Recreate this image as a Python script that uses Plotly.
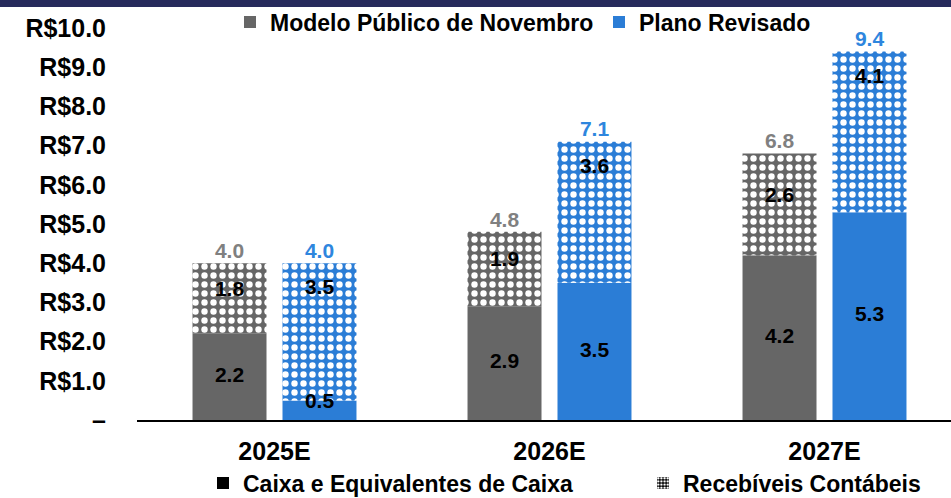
import plotly.graph_objects as go

# --- data ---------------------------------------------------------------
years = ["2025E", "2026E", "2027E"]
modelo_caixa = [2.2, 2.9, 4.2]
modelo_receb = [1.8, 1.9, 2.6]
plano_caixa = [0.5, 3.5, 5.3]
plano_receb = [3.5, 3.6, 4.1]
modelo_total = [4.0, 4.8, 6.8]
plano_total = [4.0, 7.1, 9.4]
y_ticks = [0, 1, 2, 3, 4, 5, 6, 7, 8, 9, 10]
y_tick_text = ["–"] + [f"R${v:.1f}" for v in y_ticks[1:]]

# --- style --------------------------------------------------------------
GRAY = "#666666"
BLUE = "#2B7DD6"
GRAY_LABEL = "#808080"
BLUE_LABEL = "#2E86DE"
NAVY = "#272A5C"
FONT = "Liberation Sans, Arial, sans-serif"

W, H = 951, 498
ML, MR, MT, MB = 137, 0, 28, 78
plot_w = W - ML - MR
plot_h = H - MT - MB

bar_w = 0.269
shift = 0.1636
xs = list(range(len(years)))
x_gray = [x - shift for x in xs]
x_blue = [x + shift for x in xs]


def dots(bg):
    return dict(shape=".", bgcolor=bg, fgcolor="white", size=9,
                solidity=0.4, fillmode="replace")


fig = go.Figure()

# stacked bars: cash at the bottom, receivables on top
fig.add_bar(x=xs, y=modelo_caixa, width=bar_w, offset=-shift - bar_w / 2,
            marker=dict(color=GRAY, line_width=0),
            name="Modelo Público de Novembro", legend="legend", legendwidth=324)
fig.add_bar(x=xs, y=modelo_receb, base=modelo_caixa, width=bar_w,
            offset=-shift - bar_w / 2,
            marker=dict(color=GRAY, line_width=0, pattern=dots(GRAY)),
            showlegend=False)
fig.add_bar(x=xs, y=plano_caixa, width=bar_w, offset=shift - bar_w / 2,
            marker=dict(color=BLUE, line_width=0),
            name="Plano Revisado", legend="legend", legendwidth=170)
fig.add_bar(x=xs, y=plano_receb, base=plano_caixa, width=bar_w,
            offset=shift - bar_w / 2,
            marker=dict(color=BLUE, line_width=0, pattern=dots(BLUE)),
            showlegend=False)

# legend entries for the stack components
fig.add_bar(x=[None], y=[None], name="Caixa e Equivalentes de Caixa",
            marker=dict(color="black", line_width=0), legend="legend2",
            legendwidth=395)
fig.add_bar(x=[None], y=[None], name="Recebíveis Contábeis",
            marker=dict(color="black", line_width=0,
                        pattern=dict(shape=".", bgcolor="black", fgcolor="white",
                                     size=4, solidity=0.5, fillmode="replace")),
            legend="legend2", legendwidth=250)

# segment value labels
seg_font = dict(family=FONT, size=21, color="black", weight="bold")
gray_bottom_y = [v / 2 for v in modelo_caixa]
gray_top_y = [b + v / 2 + 0.2 for b, v in zip(modelo_caixa, modelo_receb)]
blue_bottom_y = [max(v / 2, 0.43) for v in plano_caixa]
blue_top_y = [t - 0.66 for t in plano_total]
fig.add_scatter(x=x_gray + x_gray, y=gray_bottom_y + gray_top_y, mode="text",
                text=[f"{v:.1f}" for v in modelo_caixa + modelo_receb],
                textposition="middle center", textfont=seg_font,
                showlegend=False, hoverinfo="skip")
fig.add_scatter(x=x_blue + x_blue, y=blue_bottom_y + blue_top_y, mode="text",
                text=[f"{v:.1f}" for v in plano_caixa + plano_receb],
                textposition="middle center", textfont=seg_font,
                showlegend=False, hoverinfo="skip")

# totals above each bar
fig.add_scatter(x=x_gray, y=modelo_total, mode="text",
                text=[f"{v:.1f}" for v in modelo_total], textposition="top center",
                textfont=dict(family=FONT, size=21, color=GRAY_LABEL, weight="bold"),
                showlegend=False, hoverinfo="skip")
fig.add_scatter(x=x_blue, y=plano_total, mode="text",
                text=[f"{v:.1f}" for v in plano_total], textposition="top center",
                textfont=dict(family=FONT, size=21, color=BLUE_LABEL, weight="bold"),
                showlegend=False, hoverinfo="skip")

# navy band across the top of the page
band_px = 7
fig.add_shape(type="rect", xref="paper", yref="paper",
              x0=-ML / plot_w, x1=1 + MR / plot_w + 0.01,
              y0=1 + (MT - band_px) / plot_h, y1=1 + MT / plot_h + 0.01,
              fillcolor=NAVY, line_width=0, layer="above")

fig.update_layout(
    width=W, height=H,
    margin=dict(l=ML, r=MR, t=MT, b=MB, pad=0, autoexpand=False),
    barmode="overlay",
    plot_bgcolor="white", paper_bgcolor="white",
    font=dict(family=FONT, color="black"),
    xaxis=dict(range=[-0.5, (W - ML) / 275 - 0.5], tickvals=xs, ticktext=years,
               showgrid=False, zeroline=False, showline=True,
               linecolor="black", linewidth=1.5, ticks="",
               tickfont=dict(family=FONT, size=25, weight="bold"),
               ticklabelstandoff=8, fixedrange=True),
    yaxis=dict(range=[0, 10], tickvals=y_ticks, ticktext=y_tick_text,
               showgrid=False, zeroline=False, showline=False, ticks="",
               tickfont=dict(family=FONT, size=25, weight="bold"),
               ticklabelstandoff=30, fixedrange=True),
    legend=dict(orientation="h", x=(255 - 25 - ML) / plot_w, xanchor="left",
                y=1 + (MT - 22) / plot_h, yanchor="middle",
                font=dict(family=FONT, size=23, weight="bold"),
                bgcolor="rgba(0,0,0,0)", traceorder="normal"),
    legend2=dict(orientation="h", x=(228 - 25 - ML) / plot_w, xanchor="left",
                 y=-(483 - (H - MB)) / plot_h, yanchor="middle",
                 font=dict(family=FONT, size=23, weight="bold"),
                 bgcolor="rgba(0,0,0,0)", traceorder="normal"),
)

fig.write_html("out.html")
